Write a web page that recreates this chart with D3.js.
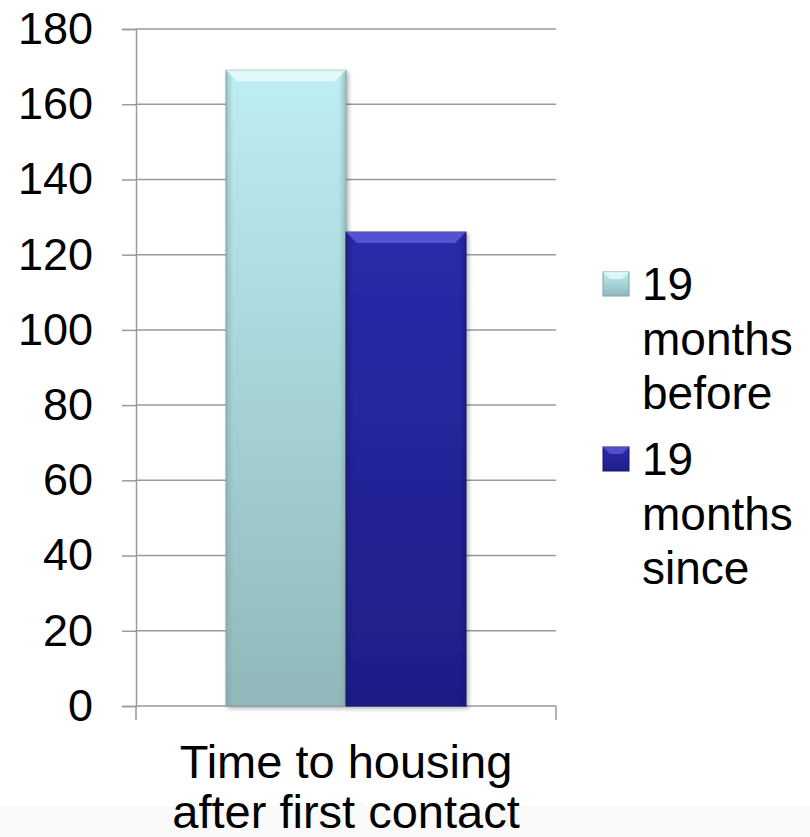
<!DOCTYPE html>
<html>
<head>
<meta charset="utf-8">
<script src="https://cdn.jsdelivr.net/npm/d3@7"></script>
<style>
  body { margin: 0; background: #fff; }
  svg text { font-family: "Liberation Sans", Arial, sans-serif; fill: #000; }
</style>
</head>
<body>
<svg id="chart" width="810" height="837"></svg>
<script>
var categories = ["Time to housing after first contact"];
var series = ["19 months before", "19 months since"];
var values = [[169, 126]]; // one row per category, one value per series
var yTicks = [0, 20, 40, 60, 80, 100, 120, 140, 160, 180];

var COLORS = {
  grid: "#9a9a9a",
  before: { top: "#bdeef2", bottom: "#90b8bb", edge: "#7fa3a6", bevel: "#e6fbfd" },
  since: { top: "#2a2aaa", bottom: "#1e1e88", edge: "#16166a", bevel: "#5a5ad6" }
};
var seriesColors = [COLORS.before, COLORS.since];

var margins = { top: 29, left: 136, right: 254, bottom: 131 };
var width = 810, height = 837;
var chartWidth = width - margins.left - margins.right;
var chartHeight = height - margins.top - margins.bottom;

var svg = d3.select("#chart");

// faint band at the very bottom of the slide
svg.append("rect")
  .attr("x", 0).attr("y", 806)
  .attr("width", width).attr("height", height - 806)
  .style("fill", "#fafafa");

var defs = svg.append("defs");
seriesColors.forEach(function(c, i) {
  var g = defs.append("linearGradient")
    .attr("id", "grad-" + i)
    .attr("x1", 0).attr("y1", 0).attr("x2", 0).attr("y2", 1);
  g.append("stop").attr("offset", "0%").attr("stop-color", c.top);
  g.append("stop").attr("offset", "100%").attr("stop-color", c.bottom);
  var h = defs.append("linearGradient")
    .attr("id", "side-" + i)
    .attr("x1", 0).attr("y1", 0).attr("x2", 1).attr("y2", 0);
  h.append("stop").attr("offset", "0%").attr("stop-color", c.edge).attr("stop-opacity", 0.55);
  h.append("stop").attr("offset", "6%").attr("stop-color", c.edge).attr("stop-opacity", 0);
  h.append("stop").attr("offset", "94%").attr("stop-color", c.edge).attr("stop-opacity", 0);
  h.append("stop").attr("offset", "100%").attr("stop-color", c.edge).attr("stop-opacity", 0.55);
});
var shadow = defs.append("filter").attr("id", "shadow")
  .attr("x", "-10%").attr("y", "-10%").attr("width", "130%").attr("height", "130%");
shadow.append("feDropShadow")
  .attr("dx", 2).attr("dy", 2).attr("stdDeviation", 2)
  .attr("flood-color", "#000").attr("flood-opacity", 0.3);

var y = d3.scaleLinear()
  .domain([0, 180])
  .range([margins.top + chartHeight, margins.top]);

var x0 = d3.scaleBand()
  .domain(categories)
  .range([margins.left, margins.left + chartWidth])
  .padding(0);

var x1 = d3.scaleBand()
  .domain(series)
  .range([0, x0.bandwidth()])
  .paddingInner(0)
  .paddingOuter(0.75);

// gridlines
svg.append("g")
  .selectAll("line")
  .data(yTicks)
  .join("line")
    .attr("x1", margins.left)
    .attr("x2", margins.left + chartWidth)
    .attr("y1", d => y(d))
    .attr("y2", d => y(d))
    .style("stroke", COLORS.grid)
    .style("stroke-width", 1.5);

// y axis
var yAxis = svg.append("g")
  .attr("transform", "translate(" + margins.left + ",0)")
  .call(d3.axisLeft(y).tickValues(yTicks).tickSize(14).tickPadding(29));
yAxis.select(".domain").style("stroke", COLORS.grid).style("stroke-width", 1.5);
yAxis.selectAll(".tick line").style("stroke", COLORS.grid).style("stroke-width", 1.5);
yAxis.selectAll(".tick text")
  .style("font-size", "45px")
  .style("fill", "#000")
  .style("font-family", "'Liberation Sans', Arial, sans-serif");

// x axis: baseline ticks at category boundaries
var xEdges = [x0.range()[0], x0.range()[1]];
svg.append("g")
  .selectAll("line")
  .data(xEdges)
  .join("line")
    .attr("x1", d => d).attr("x2", d => d)
    .attr("y1", y(0)).attr("y2", y(0) + 14)
    .style("stroke", COLORS.grid)
    .style("stroke-width", 1.5);

// bars
var bars = svg.append("g")
  .selectAll("g")
  .data(categories)
  .join("g")
    .attr("transform", d => "translate(" + x0(d) + ",0)");

var barData = bars.selectAll("g.bar")
  .data((d, ci) => series.map((s, si) => ({ s: s, si: si, v: values[ci][si] })))
  .join("g")
    .attr("class", "bar");

barData.append("rect")
  .attr("x", d => x1(d.s))
  .attr("y", d => y(d.v))
  .attr("width", x1.bandwidth())
  .attr("height", d => y(0) - y(d.v))
  .style("fill", d => "url(#grad-" + d.si + ")")
  .style("stroke", d => seriesColors[d.si].edge)
  .style("stroke-width", 1)
  .attr("filter", "url(#shadow)");

barData.append("rect")
  .attr("x", d => x1(d.s))
  .attr("y", d => y(d.v))
  .attr("width", x1.bandwidth())
  .attr("height", d => y(0) - y(d.v))
  .style("fill", d => "url(#side-" + d.si + ")");

// bevel on the top edge
var bevel = 11;
barData.append("path")
  .attr("d", function(d) {
    var x = x1(d.s), w = x1.bandwidth(), t = y(d.v);
    return "M" + x + "," + t + "L" + (x + w) + "," + t +
      "L" + (x + w - bevel) + "," + (t + bevel) + "L" + (x + bevel) + "," + (t + bevel) + "Z";
  })
  .style("fill", d => seriesColors[d.si].bevel)
  .style("opacity", 0.85);

// wraps a text element into tspans no wider than maxWidth
function wrap(sel, maxWidth, lineHeight) {
  sel.each(function() {
    var text = d3.select(this);
    var words = text.text().split(/\s+/);
    var xPos = text.attr("x");
    text.text(null);
    var line = [];
    var tspan = text.append("tspan").attr("x", xPos).attr("dy", 0);
    words.forEach(function(w) {
      line.push(w);
      tspan.text(line.join(" "));
      if (tspan.node().getComputedTextLength() > maxWidth && line.length > 1) {
        line.pop();
        tspan.text(line.join(" "));
        line = [w];
        tspan = text.append("tspan").attr("x", xPos).attr("dy", lineHeight).text(w);
      }
    });
  });
}

svg.append("g")
  .selectAll("text")
  .data(categories)
  .join("text")
    .attr("x", d => x0(d) + x0.bandwidth() / 2)
    .attr("y", 778)
    .style("font-size", "47px")
    .style("text-anchor", "middle")
    .text(d => d)
    .call(wrap, 400, 50);

// legend
var legendTops = [272, 447];
var legend = svg.append("g")
  .selectAll("g")
  .data(series)
  .join("g")
    .attr("transform", (d, i) => "translate(603," + legendTops[i] + ")");

legend.append("rect")
  .attr("width", 26).attr("height", 24)
  .style("fill", (d, i) => "url(#grad-" + i + ")")
  .style("stroke", (d, i) => seriesColors[i].edge)
  .style("stroke-width", 1);

legend.append("path")
  .attr("d", "M0,0L26,0L19,7L7,7Z")
  .style("fill", (d, i) => seriesColors[i].bevel)
  .style("opacity", 0.8);

legend.append("text")
  .attr("x", 39)
  .attr("y", 28)
  .style("font-size", "46px")
  .text(d => d)
  .call(wrap, 165, 54.5);
</script>
</body>
</html>
